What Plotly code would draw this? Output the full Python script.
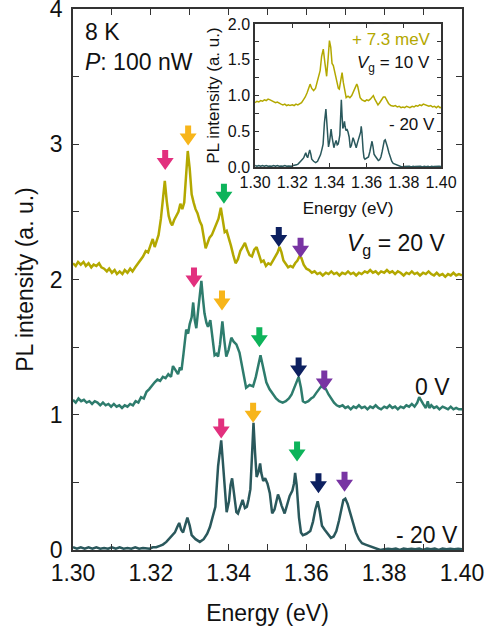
import numpy as np
import plotly.graph_objects as go

# ---------------- data ----------------
e_p20 = [1.3000,1.3007,1.3013,1.3020,1.3027,1.3033,1.3040,1.3047,1.3053,1.3060,1.3067,1.3073,1.3080,1.3087,1.3093,1.3100,
         1.3107,1.3113,1.3120,1.3127,1.3133,1.3140,1.3147,1.3153,1.3160,1.3167,1.3173,1.3180,1.3187,1.3193,1.3200,1.3205,
         1.3210,1.3215,1.3220,1.3226,1.3231,1.3236,1.3241,1.3246,1.3251,1.3255,1.3260,1.3266,1.3271,1.3276,1.3281,1.3286,
         1.3291,1.3295,1.3300,1.3305,1.3310,1.3315,1.3320,1.3326,1.3331,1.3336,1.3341,1.3346,1.3351,1.3357,1.3363,1.3368,
         1.3374,1.3380,1.3385,1.3390,1.3395,1.3400,1.3406,1.3412,1.3418,1.3424,1.3430,1.3436,1.3442,1.3448,1.3454,1.3460,
         1.3466,1.3472,1.3478,1.3484,1.3490,1.3496,1.3502,1.3508,1.3514,1.3520,1.3526,1.3531,1.3536,1.3541,1.3547,1.3553,
         1.3559,1.3565,1.3571,1.3577,1.3582,1.3587,1.3593,1.3600,1.3607,1.3614,1.3621,1.3628,1.3635,1.3642,1.3650,1.3657,
         1.3664,1.3671,1.3678,1.3685,1.3692,1.3700,1.3707,1.3714,1.3721,1.3728,1.3735,1.3742,1.3750,1.3757,1.3764,1.3771,
         1.3778,1.3785,1.3792,1.3800,1.3807,1.3814,1.3821,1.3828,1.3835,1.3842,1.3850,1.3857,1.3864,1.3871,1.3878,1.3885,
         1.3892,1.3900,1.3907,1.3914,1.3921,1.3928,1.3935,1.3942,1.3950,1.3957,1.3964,1.3971,1.3978,1.3985,1.3992,1.4000]
i_p20 = [2.12,2.10,2.13,2.11,2.13,2.10,2.12,2.09,2.11,2.10,2.12,2.09,2.08,2.06,2.08,2.05,
         2.07,2.04,2.06,2.04,2.07,2.05,2.08,2.06,2.09,2.12,2.14,2.17,2.21,2.20,2.26,2.30,
         2.24,2.28,2.33,2.45,2.62,2.73,2.58,2.47,2.42,2.40,2.44,2.47,2.50,2.56,2.52,2.57,
         2.78,2.95,2.82,2.63,2.57,2.52,2.49,2.43,2.40,2.32,2.23,2.27,2.31,2.33,2.37,2.40,
         2.45,2.53,2.44,2.35,2.36,2.30,2.25,2.18,2.12,2.15,2.21,2.24,2.27,2.22,2.18,2.17,
         2.22,2.24,2.18,2.13,2.14,2.10,2.12,2.11,2.14,2.17,2.20,2.24,2.20,2.14,2.11,2.09,
         2.10,2.09,2.12,2.14,2.17,2.16,2.11,2.08,2.07,2.05,2.06,2.04,2.05,2.03,2.05,2.04,
         2.06,2.04,2.05,2.03,2.05,2.04,2.06,2.04,2.05,2.03,2.05,2.04,2.06,2.05,2.07,2.05,
         2.06,2.04,2.06,2.05,2.07,2.05,2.06,2.04,2.06,2.05,2.03,2.05,2.04,2.06,2.04,2.05,
         2.03,2.05,2.04,2.06,2.04,2.03,2.05,2.03,2.04,2.02,2.04,2.03,2.05,2.03,2.04,2.03]

e_0 = [1.3000,1.3007,1.3014,1.3021,1.3028,1.3035,1.3042,1.3049,1.3056,1.3063,1.3070,1.3077,1.3084,1.3091,1.3098,1.3105,
       1.3112,1.3119,1.3126,1.3133,1.3140,1.3147,1.3154,1.3161,1.3168,1.3175,1.3182,1.3189,1.3196,1.3203,1.3210,1.3217,
       1.3224,1.3231,1.3238,1.3245,1.3252,1.3257,1.3263,1.3270,1.3275,1.3279,1.3284,1.3291,1.3296,1.3300,1.3305,1.3309,
       1.3313,1.3317,1.3322,1.3326,1.3330,1.3334,1.3338,1.3343,1.3347,1.3353,1.3358,1.3364,1.3369,1.3373,1.3378,1.3384,
       1.3389,1.3394,1.3400,1.3407,1.3413,1.3420,1.3428,1.3436,1.3445,1.3454,1.3463,1.3470,1.3476,1.3482,1.3488,1.3497,
       1.3505,1.3514,1.3522,1.3530,1.3539,1.3547,1.3555,1.3562,1.3568,1.3574,1.3580,1.3586,1.3591,1.3597,1.3605,1.3612,
       1.3618,1.3625,1.3632,1.3638,1.3644,1.3650,1.3657,1.3664,1.3671,1.3678,1.3685,1.3693,1.3700,1.3707,1.3714,1.3721,
       1.3728,1.3735,1.3742,1.3750,1.3757,1.3764,1.3771,1.3778,1.3785,1.3792,1.3800,1.3807,1.3814,1.3821,1.3828,1.3835,
       1.3842,1.3850,1.3857,1.3864,1.3871,1.3878,1.3885,1.3890,1.3895,1.3900,1.3907,1.3912,1.3916,1.3921,1.3928,1.3935,
       1.3942,1.3950,1.3957,1.3964,1.3971,1.3978,1.3985,1.3992,1.4000]
i_0 = [1.11,1.09,1.12,1.10,1.11,1.09,1.10,1.08,1.10,1.09,1.07,1.09,1.07,1.08,1.06,1.08,
       1.06,1.07,1.05,1.07,1.06,1.08,1.07,1.10,1.09,1.13,1.12,1.17,1.19,1.22,1.24,1.26,
       1.25,1.28,1.27,1.30,1.28,1.36,1.33,1.30,1.35,1.33,1.45,1.63,1.60,1.67,1.72,1.83,
       1.70,1.64,1.78,1.90,1.99,1.86,1.75,1.68,1.65,1.70,1.58,1.44,1.45,1.43,1.52,1.69,
       1.55,1.43,1.48,1.57,1.54,1.52,1.46,1.34,1.20,1.22,1.21,1.28,1.36,1.44,1.36,1.24,
       1.19,1.15,1.12,1.10,1.09,1.10,1.12,1.15,1.19,1.23,1.28,1.20,1.10,1.09,1.10,1.12,
       1.13,1.16,1.19,1.21,1.20,1.19,1.15,1.12,1.09,1.07,1.06,1.07,1.05,1.06,1.04,1.06,
       1.05,1.07,1.05,1.06,1.04,1.06,1.05,1.07,1.05,1.04,1.06,1.05,1.07,1.05,1.06,1.04,
       1.06,1.05,1.07,1.06,1.08,1.06,1.09,1.13,1.10,1.08,1.05,1.10,1.05,1.07,1.05,1.06,
       1.04,1.06,1.05,1.04,1.06,1.04,1.05,1.04,1.04]

e_m20 = [1.3000,1.3010,1.3020,1.3030,1.3040,1.3050,1.3060,1.3070,1.3080,1.3090,1.3100,1.3110,1.3120,1.3130,1.3140,1.3150,
         1.3160,1.3170,1.3180,1.3190,1.3197,1.3205,1.3214,1.3223,1.3231,1.3240,1.3249,1.3256,1.3262,1.3268,1.3273,1.3278,
         1.3283,1.3288,1.3294,1.3300,1.3305,1.3315,1.3326,1.3336,1.3345,1.3352,1.3360,1.3366,1.3373,1.3378,1.3381,1.3385,
         1.3390,1.3395,1.3401,1.3405,1.3409,1.3414,1.3420,1.3424,1.3430,1.3436,1.3442,1.3447,1.3451,1.3456,1.3460,1.3464,
         1.3468,1.3472,1.3477,1.3481,1.3484,1.3489,1.3494,1.3500,1.3506,1.3512,1.3518,1.3524,1.3527,1.3531,1.3536,1.3544,
         1.3550,1.3557,1.3564,1.3568,1.3571,1.3575,1.3581,1.3586,1.3591,1.3600,1.3610,1.3617,1.3623,1.3629,1.3634,1.3640,
         1.3647,1.3655,1.3663,1.3670,1.3677,1.3684,1.3690,1.3695,1.3700,1.3706,1.3712,1.3720,1.3727,1.3735,1.3743,1.3752,
         1.3761,1.3770,1.3780,1.3790,1.3800,1.3810,1.3820,1.3830,1.3840,1.3850,1.3860,1.3870,1.3880,1.3890,1.3900,1.3910,
         1.3920,1.3930,1.3940,1.3950,1.3960,1.3970,1.3980,1.3990,1.4000]
i_m20 = [0.02,0.01,0.02,0.01,0.02,0.01,0.02,0.01,0.015,0.01,0.02,0.01,0.02,0.01,0.015,0.01,
         0.02,0.01,0.015,0.01,0.01,0.02,0.02,0.03,0.04,0.06,0.09,0.11,0.13,0.17,0.20,0.15,
         0.13,0.18,0.24,0.18,0.11,0.08,0.06,0.08,0.12,0.17,0.25,0.32,0.62,0.72,0.81,0.66,
         0.45,0.28,0.36,0.48,0.53,0.42,0.28,0.27,0.33,0.37,0.31,0.32,0.37,0.45,0.69,0.94,
         0.72,0.54,0.58,0.64,0.57,0.51,0.53,0.49,0.42,0.27,0.30,0.38,0.41,0.38,0.33,0.27,
         0.33,0.40,0.44,0.49,0.57,0.48,0.24,0.13,0.11,0.12,0.14,0.21,0.30,0.36,0.29,0.18,
         0.15,0.12,0.09,0.10,0.14,0.22,0.30,0.37,0.38,0.34,0.28,0.20,0.13,0.08,0.05,0.04,
         0.03,0.025,0.01,0.0,0.005,0.01,0.005,0.01,0.0,0.01,0.005,0.01,0.005,0.01,0.0,0.01,
         0.005,0.01,0.0,0.01,0.005,0.01,0.005,0.01,0.005]

# inset: Vg = 10 V spectrum shifted by +7.3 meV
e_p10 = [1.3000,1.3010,1.3020,1.3030,1.3040,1.3050,1.3060,1.3070,1.3081,1.3090,1.3100,1.3110,1.3120,1.3130,1.3140,1.3150,
         1.3160,1.3170,1.3180,1.3188,1.3200,1.3210,1.3220,1.3230,1.3240,1.3250,1.3260,1.3270,1.3280,1.3290,1.3296,1.3305,
         1.3315,1.3325,1.3335,1.3342,1.3350,1.3358,1.3367,1.3376,1.3385,1.3393,1.3400,1.3407,1.3414,1.3421,1.3430,1.3440,
         1.3448,1.3453,1.3460,1.3468,1.3475,1.3482,1.3490,1.3500,1.3510,1.3520,1.3530,1.3540,1.3547,1.3552,1.3558,1.3565,
         1.3575,1.3585,1.3591,1.3600,1.3610,1.3620,1.3629,1.3636,1.3644,1.3652,1.3661,1.3670,1.3680,1.3690,1.3699,1.3708,
         1.3718,1.3730,1.3744,1.3755,1.3765,1.3775,1.3785,1.3795,1.3805,1.3815,1.3825,1.3833,1.3845,1.3855,1.3865,1.3875,
         1.3885,1.3895,1.3905,1.3915,1.3923,1.3935,1.3945,1.3955,1.3965,1.3975,1.3985,1.3995,1.4000]
i_p10 = [0.90,0.92,0.91,0.93,0.92,0.94,0.93,0.95,0.94,0.93,0.91,0.90,0.91,0.89,0.88,0.87,
         0.88,0.86,0.87,0.86,0.87,0.86,0.88,0.87,0.89,0.90,0.94,0.98,1.04,1.10,1.16,1.10,
         1.07,1.10,1.20,1.23,1.35,1.55,1.65,1.45,1.27,1.52,1.77,1.68,1.45,1.42,1.32,1.18,
         1.10,1.09,1.22,1.32,1.18,1.05,0.97,0.99,0.97,1.00,1.06,1.12,1.16,1.13,1.04,0.97,
         0.94,0.93,0.92,0.94,0.93,0.95,0.98,1.00,0.95,0.90,0.87,0.90,0.95,0.98,0.98,0.93,
         0.89,0.86,0.85,0.86,0.84,0.85,0.83,0.84,0.83,0.85,0.84,0.83,0.85,0.84,0.86,0.85,
         0.87,0.86,0.88,0.87,0.87,0.85,0.86,0.84,0.85,0.83,0.85,0.83,0.84]

# arrows: peak positions (energy, arrow tip height)
arr_colors = ["#e2307e", "#f7b51a", "#0db35a", "#0d2060", "#7834a3"]
arr_e_p20 = [1.3237, 1.3296, 1.3388, 1.3529, 1.3585]
arr_y_p20 = [2.81, 2.99, 2.56, 2.24, 2.16]
arr_e_0 = [1.3311, 1.3383, 1.3479, 1.3580, 1.3646]
arr_y_0 = [1.94, 1.77, 1.50, 1.275, 1.18]
arr_e_m20 = [1.3381, 1.3463, 1.3576, 1.3631, 1.3698]
arr_y_m20 = [0.825, 0.94, 0.655, 0.42, 0.43]

# inset highlight bands (centre energies)
band_e = [1.3370, 1.3476, 1.3559, 1.3627, 1.3699]
band_colors = ["rgba(232,60,140,0.28)", "rgba(250,195,60,0.28)", "rgba(20,170,80,0.25)",
               "rgba(40,120,200,0.30)", "rgba(120,60,170,0.28)"]

x_ticks = [1.30, 1.31, 1.32, 1.33, 1.34, 1.35, 1.36, 1.37, 1.38, 1.39, 1.40]
x_ticktext = ["1.30", "", "1.32", "", "1.34", "", "1.36", "", "1.38", "", "1.40"]
y_ticks = [0, 0.5, 1, 1.5, 2, 2.5, 3, 3.5, 4]
y_ticktext = ["0", "", "1", "", "2", "", "3", "", "4"]
xi_ticks = [1.30, 1.32, 1.34, 1.36, 1.38, 1.40]
xi_ticktext = ["1.30", "1.32", "1.34", "1.36", "1.38", "1.40"]
yi_ticks = [0, 0.25, 0.5, 0.75, 1.0, 1.25, 1.5, 1.75, 2.0]
yi_ticktext = ["0.0", "", "0.5", "", "1.0", "", "1.5", "", "2.0"]

# ---------------- styles ----------------
C20 = "#b3a800"
C0 = "#2e7c6d"
CM20 = "#2a585c"
FONT = "Liberation Sans, Arial, sans-serif"
AX = "#333333"

fig = go.Figure()
fig.add_trace(go.Scatter(x=e_m20, y=i_m20, mode="lines", line=dict(color=CM20, width=2.5), xaxis="x", yaxis="y"))
fig.add_trace(go.Scatter(x=e_0, y=i_0, mode="lines", line=dict(color=C0, width=2.5), xaxis="x", yaxis="y"))
fig.add_trace(go.Scatter(x=e_p20, y=i_p20, mode="lines", line=dict(color=C20, width=2.5), xaxis="x", yaxis="y"))
fig.add_trace(go.Scatter(x=e_p10, y=i_p10, mode="lines", line=dict(color=C20, width=1.5), xaxis="x2", yaxis="y2"))
fig.add_trace(go.Scatter(x=e_m20, y=i_m20, mode="lines", line=dict(color=CM20, width=1.5), xaxis="x2", yaxis="y2"))

arrow_path = "M 0 0 L -8.5 12 L -3 12 L -3 20 L 3 20 L 3 12 L 8.5 12 Z"
shapes = []
for es, ys in [(arr_e_p20, arr_y_p20), (arr_e_0, arr_y_0), (arr_e_m20, arr_y_m20)]:
    for e, y, c in zip(es, ys, arr_colors):
        shapes.append(dict(type="path", xref="x", yref="y", xsizemode="pixel", ysizemode="pixel",
                           xanchor=e, yanchor=y, path=arrow_path, fillcolor=c, line=dict(width=0)))
for e, c in zip(band_e, band_colors):
    shapes.append(dict(type="rect", xref="x2", yref="y2 domain", x0=e - 0.00135, x1=e + 0.00135, y0=0, y1=1,
                       fillcolor=c, line=dict(width=0), layer="below"))

axis_common = dict(showline=True, mirror="ticks", linecolor=AX, linewidth=1.5, ticks="inside",
                   tickcolor=AX, showgrid=False, zeroline=False, automargin=False, ticklabeloverflow="allow")

fig.update_layout(
    width=487, height=629, showlegend=False,
    margin=dict(l=73, r=25, t=9, b=79),
    paper_bgcolor="white", plot_bgcolor="white",
    font=dict(family=FONT, color="#111111"),
    shapes=shapes,
    xaxis=dict(domain=[0, 1], range=[1.30, 1.40], tickvals=x_ticks, ticktext=x_ticktext, ticklen=6, tickwidth=1.2,
               ticklabelstandoff=2,
               tickfont=dict(size=23), title=dict(text="Energy (eV)", font=dict(size=23), standoff=20), **axis_common),
    yaxis=dict(domain=[0, 1], range=[0, 4], tickvals=y_ticks, ticktext=y_ticktext, ticklen=6, tickwidth=1.2,
               ticklabelstandoff=4,
               tickfont=dict(size=23), title=dict(text="PL intensity (a. u.)", font=dict(size=23), standoff=10),
               **axis_common),
    xaxis2=dict(domain=[0.468, 0.946], anchor="y2", range=[1.30, 1.40], tickvals=xi_ticks, ticktext=xi_ticktext,
                ticklen=4, tickwidth=1, tickfont=dict(size=16),
                title=dict(text="Energy (eV)", font=dict(size=17), standoff=12), **axis_common),
    yaxis2=dict(domain=[0.708, 0.972], anchor="x2", range=[0, 2], tickvals=yi_ticks, ticktext=yi_ticktext,
                ticklen=4, tickwidth=1, tickfont=dict(size=16),
                title=dict(text="PL intensity (a. u.)", font=dict(size=17), standoff=4), **axis_common),
)

ann = [
    dict(text="8 K", x=0.0257, y=0.957, xanchor="left", size=23, color="#111111"),
    dict(text="<i>P</i>: 100 nW", x=0.0257, y=0.9017, xanchor="left", size=23, color="#111111"),
    dict(text="<i>V</i><sub>g</sub> = 20 V", x=0.961, y=0.564, xanchor="right", size=23, color="#111111"),
    dict(text="0 V", x=0.974, y=0.302, xanchor="right", size=23, color="#111111"),
    dict(text="- 20 V", x=0.995, y=0.0277, xanchor="right", size=23, color="#111111"),
    dict(text="+ 7.3 meV", x=0.925, y=0.943, xanchor="right", size=17, color=C20),
    dict(text="<i>V</i><sub>g</sub> = 10 V", x=0.923, y=0.899, xanchor="right", size=17, color="#111111"),
    dict(text="- 20 V", x=0.936, y=0.786, xanchor="right", size=17, color="#111111"),
]
for a in ann:
    fig.add_annotation(text=a["text"], x=a["x"], y=a["y"], xref="paper", yref="paper", xanchor=a["xanchor"],
                       yanchor="middle", showarrow=False, font=dict(size=a["size"], color=a["color"], family=FONT))

fig.write_html("out.html", config={"displayModeBar": False},
               post_script="document.body.style.margin='0px'; document.body.style.padding='0px';")
